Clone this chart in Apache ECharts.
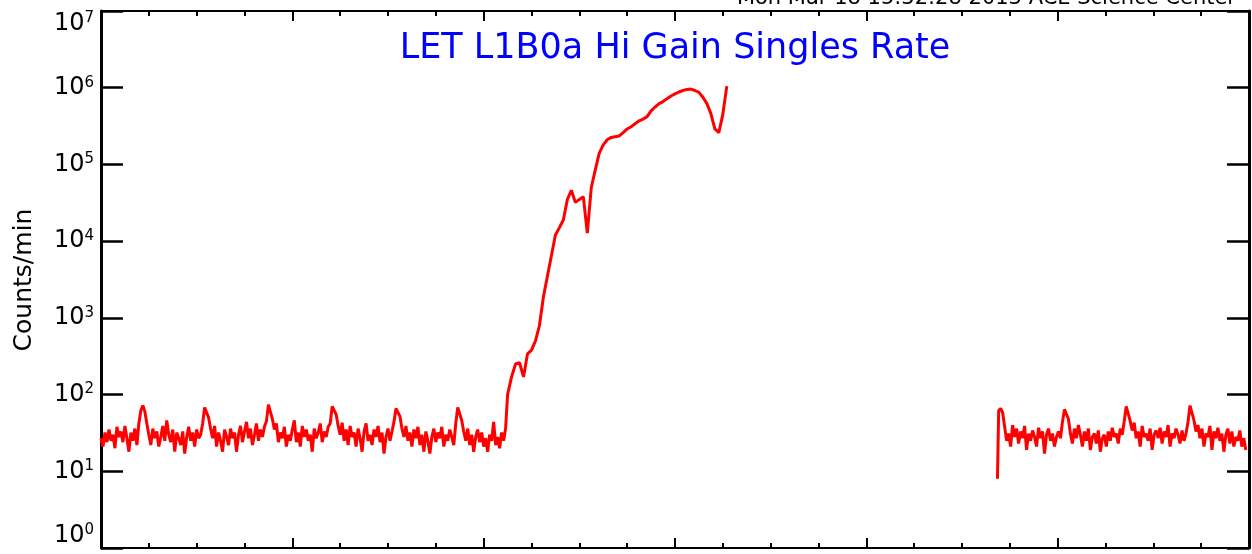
<!DOCTYPE html>
<html><head><meta charset="utf-8">
<script src="https://cdn.jsdelivr.net/npm/echarts@6/dist/echarts.min.js"></script>
<style>html,body{margin:0;padding:0;background:#fff}#c{width:1252px;height:554px}</style>
</head><body><div id="c"></div>
<script>
// ---- texts ----
const chartTitle = 'LET L1B0a Hi Gain Singles Rate';
const stampText = 'Mon Mar 18 15:32:28 2013 ACE Science Center';
const yAxisTitle = 'Counts/min';

// ---- axes (x in hours, y log counts/min) ----
const xMinHours = 0, xMaxHours = 144, xMajorHours = 24, xMinorSplit = 4;
const yMin = 1, yMax = 1e7;

// ---- quiet period before the event: every 0.25 h from t = 0 ----
const quietAStart = 0, quietAStep = 0.25;
const quietAValues = [
  27, 21, 32, 24, 35, 25, 30, 20, 38, 28,
  33, 24, 39, 27, 18, 32, 25, 36, 22, 42,
  62, 72, 60, 42, 30, 22, 36, 27, 33, 21,
  28, 39, 25, 46, 30, 24, 35, 18, 32, 27,
  22, 33, 17, 28, 38, 25, 32, 21, 35, 27,
  30, 42, 68, 70, 50, 36, 27, 39, 21, 32,
  25, 18, 35, 28, 22, 36, 27, 32, 18, 30,
  39, 24, 33, 44, 27, 36, 22, 30, 42, 25,
  35, 28, 38, 45, 74, 72, 48, 35, 42, 24,
  32, 27, 38, 21, 30, 25, 35, 46, 24, 32,
  21, 39, 28, 35, 25, 30, 18, 36, 27, 32,
  42, 24, 33, 28, 38, 42, 70, 74, 55, 39,
  30, 43, 25, 35, 22, 39, 28, 32, 21, 36,
  27, 18, 33, 42, 25, 30, 22, 35, 28, 39,
  24, 32, 17, 28, 36, 25, 33, 44, 66, 70,
  52, 36, 28, 39, 25, 32, 21, 35, 27, 38,
  22, 30, 18, 33, 25, 17, 28, 36, 24, 32,
  27, 38, 21, 30, 25, 35, 28, 22, 42, 68,
  66, 46, 33, 25, 36, 22, 30, 18, 28, 35,
  24, 32, 21, 27, 18, 30, 25, 44, 22, 28,
  20, 32, 25, 36
];

// ---- event rise: every 0.5 h from t = 51 ----
const riseStart = 51, riseStep = 0.5;
const riseValues = [
  100, 170, 250, 260, 170, 340, 380, 500, 800, 1900,
  3500, 6500, 12000, 15000, 19000, 35000, 46000, 32000, 35000, 38000,
  12700, 50000, 85000, 140000, 180000, 210000, 225000, 230000, 235000, 260000,
  290000, 310000, 340000, 370000, 390000, 420000, 500000, 560000, 620000, 660000,
  720000, 780000, 830000, 880000, 920000, 950000, 960000, 920000, 870000, 750000,
  620000, 460000, 290000, 260000, 450000, 1050000
];

// ---- quiet period after the data gap ----
const quietBLeadTime = 112.45, quietBLeadValue = 8;
const quietBStart = 112.6, quietBStep = 0.25;
const quietBValues = [
  62, 66, 58, 38, 25, 31, 21, 40, 28, 36,
  23, 33, 27, 39, 19, 31, 25, 34, 28, 21,
  37, 27, 33, 17, 30, 36, 25, 31, 21, 28,
  33, 27, 44, 64, 66, 48, 31, 23, 36, 27,
  40, 30, 21, 33, 25, 36, 19, 28, 31, 23,
  34, 18, 27, 30, 21, 33, 25, 37, 28, 31,
  23, 36, 30, 45, 70, 68, 45, 34, 43, 27,
  33, 21, 39, 28, 31, 25, 36, 19, 30, 34,
  27, 37, 23, 33, 28, 40, 21, 31, 27, 36,
  30, 23, 34, 25, 31, 44, 72, 70, 46, 33,
  40, 27, 36, 21, 31, 28, 39, 19, 33, 27,
  37, 25, 31, 18, 30, 36, 23, 33, 21, 28,
  25, 34, 21, 27, 19
];

const FONT = 'DejaVu Sans';
const segA = quietAValues.map((v, i) => [quietAStart + i * quietAStep, v])
  .concat(riseValues.map((v, i) => [riseStart + i * riseStep, v]));
const segB = [[quietBLeadTime, quietBLeadValue]]
  .concat(quietBValues.map((v, i) => [quietBStart + i * quietBStep, v]));

const chart = echarts.init(document.getElementById('c'), null, {renderer: 'canvas'});

function xAxisCfg(pos, lw) {
  return {
    type: 'value', position: pos, min: xMinHours, max: xMaxHours, interval: xMajorHours,
    axisLine: {show: true, onZero: false, lineStyle: {color: '#000', width: lw}},
    axisTick: {show: true, inside: true, length: 10, lineStyle: {color: '#000', width: 2}},
    minorTick: {show: true, splitNumber: xMinorSplit, length: 5, lineStyle: {color: '#000', width: 2}},
    axisLabel: {show: false}, splitLine: {show: false}, minorSplitLine: {show: false}
  };
}
function yAxisCfg(pos, lw, labels) {
  return {
    type: 'log', logBase: 10, position: pos, min: yMin, max: yMax, splitNumber: 7,
    axisLine: {show: true, onZero: false, lineStyle: {color: '#000', width: lw}},
    axisTick: {show: true, inside: true, length: 22, lineStyle: {color: '#000', width: 2.5}},
    minorTick: {show: false}, splitLine: {show: false},
    axisLabel: labels ? {
      show: true, margin: 7,
      verticalAlignMaxLabel: 'top', verticalAlignMinLabel: 'bottom',
      formatter: v => '{b|10}{s|' + Math.round(Math.log10(v)) + '}',
      rich: {
        b: {fontSize: 24, fontFamily: FONT, color: '#000', lineHeight: 25},
        s: {fontSize: 15, fontFamily: FONT, color: '#000', verticalAlign: 'top', lineHeight: 25}
      }
    } : {show: false}
  };
}

chart.setOption({
  animation: false,
  backgroundColor: '#fff',
  grid: {left: 101, right: 3, top: 11, bottom: 6, containLabel: false},
  xAxis: [xAxisCfg('bottom', 2), xAxisCfg('top', 2)],
  yAxis: [yAxisCfg('left', 3, true), yAxisCfg('right', 3, false)],
  series: [
    {type: 'line', data: segA, showSymbol: false, symbol: 'none', lineStyle: {color: '#ff0000', width: 3}, xAxisIndex: 0, yAxisIndex: 0},
    {type: 'line', data: segB, showSymbol: false, symbol: 'none', lineStyle: {color: '#ff0000', width: 3}, xAxisIndex: 0, yAxisIndex: 0}
  ],
  graphic: [
    {type: 'text', x: 675, y: 49, style: {text: chartTitle, fill: '#0000ff', font: '35px ' + FONT, textAlign: 'center', textVerticalAlign: 'middle'}},
    {type: 'text', x: 1236, y: 9, style: {text: stampText, fill: '#000', font: '21px ' + FONT, textAlign: 'right', textVerticalAlign: 'bottom'}},
    {type: 'text', x: 24, y: 280, rotation: Math.PI / 2, style: {text: yAxisTitle, fill: '#000', font: '25px ' + FONT, textAlign: 'center', textVerticalAlign: 'middle'}}
  ]
});
</script></body></html>
